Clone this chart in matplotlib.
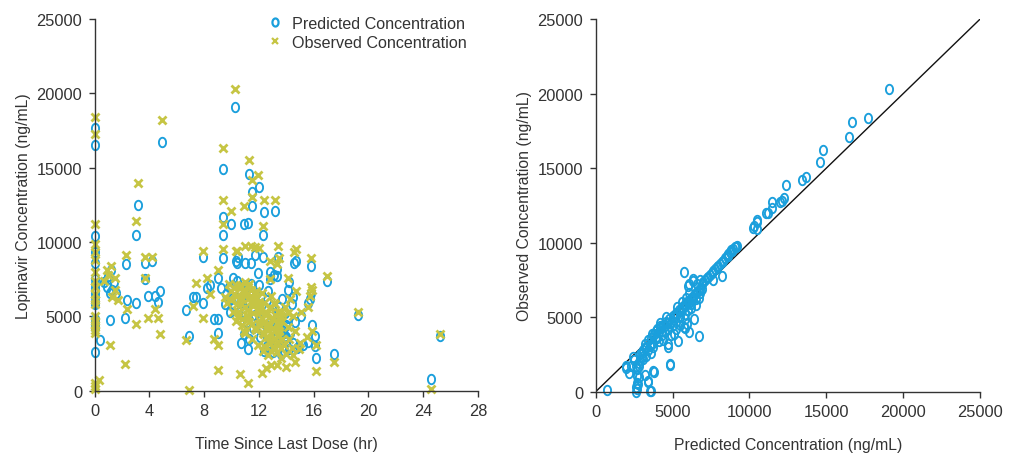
import numpy as np
import matplotlib
matplotlib.use('Agg')
import matplotlib.pyplot as plt
from matplotlib.path import Path

plt.rcParams['font.family'] = ['Liberation Sans', 'DejaVu Sans']

# --- left panel: predicted concentration vs time ---
pred_time = [0]*17 + [
    0.4, 1.1, 0.7, 0.9, 1.0, 1.2, 1.4, 1.3, 1.1, 1.6,
    2.2, 2.3, 2.4, 3.0, 3.2, 3.0, 3.7, 3.7, 3.9, 4.2, 4.4, 4.6, 4.8, 4.9,
    6.7, 6.9, 7.2, 7.4, 7.9, 7.9, 8.2, 8.4, 8.7, 9.0, 9.0, 9.0,
    10.26, 9.35, 11.25, 12.0, 11.5, 11.5, 9.4, 9.96, 10.94, 11.2, 12.35, 13.2, 9.4, 12.3,
    9.4, 10.4, 11.0, 11.4, 13.4, 14.55, 14.7, 12.8, 13.3, 10.3, 11.7, 15.8, 17.0, 14.1,
    15.8, 15.7, 15.6, 15.1, 15.9, 16.1, 15.6, 16.2, 17.5, 16.1, 14.9, 15.2, 14.1, 13.7,
    13.9, 14.0, 13.7, 13.3, 12.8, 13.1, 19.2, 24.6, 25.2,
    9.5, 9.6, 9.8, 10.0, 10.2, 10.4, 10.6, 10.7, 10.9, 11.0, 11.1, 11.2, 11.3, 11.5,
    11.6, 11.8, 12.0, 12.1, 12.2, 12.4, 12.5, 12.6, 12.8, 12.9, 13.0, 13.1, 13.2, 13.4,
    13.5, 13.6, 13.8, 13.9, 14.0, 14.2, 14.3, 14.4, 14.5, 14.6, 14.8, 10.5, 11.9, 12.3,
    10.8, 11.4, 12.7, 14.2, 14.5,
    9.2, 9.9, 10.1, 10.6, 11.0, 11.7, 12.0, 12.6, 13.0, 13.3, 13.6, 14.0, 11.3, 12.2]
pred_conc = [17700, 16500, 10400, 9300, 8600, 7500, 7200, 6900, 6600, 6300, 6000, 5800,
    4800, 4600, 4400, 4200, 2600,
    3400, 4750, 7300, 7000, 7700, 8100, 7300, 6800, 6600, 6600,
    4900, 8500, 6100, 10500, 12500, 5900, 7500, 8600, 6400, 8700, 6400, 6000, 6700, 16700,
    5400, 3700, 6300, 6300, 5900, 9000, 6900, 7100, 4800, 4800, 3900, 7600,
    19100, 14900, 14600, 13700, 13400, 12400, 11700, 11200, 11200, 11300, 12000, 12100, 10500, 10500,
    8900, 8600, 8600, 8600, 9000, 8600, 8700, 8000, 7700, 8700, 9100, 8400, 7400, 6800,
    6600, 6200, 5900, 5000, 4400, 3700, 3300, 2200, 2500, 3000, 3000, 3100, 4900, 4100,
    3700, 3300, 6200, 8200, 7500, 7800, 5100, 800, 3700,
    5800, 6500, 7000, 6200, 5600, 7400, 6800, 3200, 3800, 5200, 4600, 2800, 6000, 5500,
    4200, 6500, 4800, 3600, 5800, 2700, 4400, 6100, 3200, 5300, 2600, 4700, 3500, 2900,
    5600, 3800, 2700, 5200, 4400, 2800, 3900, 5800, 3200, 4600, 2900, 9000, 7900, 9000,
    6100, 7200, 6700, 7300, 6300,
    6900, 5300, 7600, 5900, 6700, 5100, 7100, 3000, 4200, 3300, 2500, 3600, 3500, 4100]

# --- left panel: observed concentration vs time ---
obs_time = [0]*20 + [
    0.3, 1.1, 0.7, 0.9, 1.2, 1.5, 1.3, 1.7, 1.0, 1.5,
    2.2, 2.4, 2.3, 3.0, 3.2, 3.0, 3.7, 3.7, 3.9, 4.2, 4.4, 4.6, 4.8, 4.9,
    6.7, 6.9, 7.2, 7.4, 7.9, 7.9, 8.2, 8.4, 8.7, 9.0, 9.0, 9.0,
    10.26, 9.35, 11.25, 11.9, 11.5, 11.5, 9.4, 9.96, 10.94, 12.35, 13.2, 9.4, 12.3,
    9.4, 10.4, 11.0, 11.4, 13.4, 14.55, 14.7, 12.8, 10.3, 11.7, 12.0, 15.8, 17.0, 14.1,
    15.8, 15.7, 15.6, 15.1, 15.9, 15.5, 16.2, 17.5, 15.0, 14.9, 14.5, 14.6, 14.1, 12.9,
    12.8, 13.3, 13.5, 19.2, 24.6, 25.2, 10.6, 11.2, 12.2, 12.5, 12.9, 14.0, 13.3, 16.2, 15.9,
    9.5, 9.7, 9.8, 10.0, 10.1, 10.2, 10.4, 10.5, 10.6, 10.7, 10.8, 10.9, 11.0, 11.0,
    11.1, 11.2, 11.3, 11.4, 11.5, 11.6, 11.7, 11.8, 11.9, 12.0, 12.1, 12.2, 12.3, 12.4,
    12.5, 12.6, 12.7, 12.8, 12.9, 13.0, 13.0, 13.1, 13.2, 13.3, 13.4, 13.5, 13.6, 13.7,
    13.8, 13.9, 14.0, 14.1, 14.2, 14.3, 14.4, 14.5, 14.6, 14.7, 10.3, 10.9, 11.5, 11.1,
    12.0, 12.4, 13.2, 13.6, 11.8, 12.7,
    # 10-12 h の密集部分
    10.0, 10.2, 10.4, 10.6, 10.8, 11.0, 11.2, 11.4, 11.6, 11.8, 10.3, 10.7, 11.1, 11.5,
    11.9, 10.5, 10.9, 11.3, 11.7, 12.1, 10.8, 11.2, 11.6, 12.0,
    # 12-14 h の密集部分
    12.2, 12.4, 12.6, 12.8, 13.0, 13.2, 13.4, 13.6, 12.3, 12.5, 12.7, 12.9, 13.1, 13.3,
    13.5, 13.7, 12.4, 12.8, 13.2, 13.6, 12.6, 13.0, 13.4, 12.1, 12.9, 13.5]
obs_conc = [18400, 17300, 11200, 9900, 9300, 8800, 8000, 7400, 7000, 6500, 6100, 5800,
    5000, 4700, 4400, 4100, 3900, 500, 300, 100,
    700, 3100, 7400, 8100, 8400, 7600, 6300, 6100, 7800, 6800,
    1800, 5500, 9100, 11400, 14000, 4500, 7600, 9000, 4900, 9000, 5500, 4900, 3800, 18200,
    3400, 80, 5700, 7250, 4900, 9400, 7600, 6500, 3500, 3100, 1400, 8100,
    20300, 16300, 15500, 14500, 14200, 13000, 12800, 12100, 12400, 12800, 12800, 11200, 11100,
    9500, 9400, 9750, 9750, 9750, 9300, 9500, 8700, 9400, 9700, 9600, 8900, 7700, 7600,
    7000, 6400, 5600, 5300, 4000, 3600, 1350, 1900, 3200, 2800, 2400, 1900, 5200, 6400,
    7500, 8500, 8900, 5300, 100, 3800, 1100, 500, 1200, 1500, 1700, 1600, 1700, 3100, 6800,
    6300, 5900, 7200, 6700, 5300, 6900, 6400, 5000, 7100, 5800, 4400, 6600, 3900, 7300,
    5100, 6200, 4600, 6800, 3500, 5700, 4200, 6300, 3100, 5400, 4700, 6600, 2700, 3800,
    5100, 4300, 2400, 5600, 3400, 4900, 2900, 5900, 4100, 2600, 5300, 3700, 2200, 4700,
    3100, 5600, 2500, 4300, 3500, 6200, 2900, 5000, 4000, 6700, 4700, 4000, 4500, 6500,
    6000, 5900, 5800, 5000, 4100, 3600,
    6100, 6500, 5800, 6900, 6200, 5600, 7000, 6400, 5900, 6700, 7100, 6300, 5400, 6100,
    5500, 5300, 6800, 7200, 6500, 5800, 4800, 4900, 5200, 4500,
    4900, 4600, 5200, 4400, 4800, 5100, 4600, 5300, 3900, 3600, 4100, 3800, 3500, 3300,
    4000, 3500, 3000, 3200, 2800, 2900, 4500, 4200, 3700, 5300, 2700, 4300]

# --- right panel: observed vs predicted ---
scatter_pred = [19100, 17700, 16700, 16500, 14800, 14600, 13700, 13400, 12400, 12250,
    12100, 12000, 11500, 11500, 11200, 11100, 10500, 10300, 10250, 10500, 10500,
    9170, 9050, 8950, 8850, 8740, 8630, 8520, 8410, 8300, 8200, 8090, 7980, 7870, 7760,
    7650, 7550, 7440, 7330, 7220, 7110, 7000, 6900, 8200, 7650, 6900, 6800, 9100, 8800, 8600,
    5770, 6300, 6100, 6000, 6300, 6740, 6100, 5810, 5920, 5750, 6400, 6200, 6500, 5370,
    5090, 4730, 4730, 4840, 4180, 3640,
    3790, 3210, 3380, 3600, 2620, 2600, 2700, 2800, 2190, 2000, 2400, 2800, 2700, 710,
    2900, 3100, 3500, 2670, 2770, 2670, 3530, 3420, 3750, 4830, 2000, 2300, 2600, 2800,
    2500, 3000, 3000, 3300, 3600, 3200,
    3200, 3400, 3600, 3800, 3900, 4000, 4100, 4200, 4300, 4400, 4500, 4600, 4700, 4800,
    4900, 5000, 5100, 5200, 5300, 5400, 5500, 5600, 5700, 5800, 5900, 6000, 6100, 6200,
    6300, 6400, 6500, 6600, 6700, 6800, 4500, 4700, 5000, 5200, 5500, 5800, 6000, 6200,
    4300, 4000, 3700, 3900, 4200, 4600, 5300, 5600, 5900, 6100, 6600, 6800, 6300, 6500,
    6700, 5500, 5800, 4900, 5200, 4400, 3600, 3300, 3100, 2900, 3400, 3700, 4100]
scatter_obs = [20300, 18400, 18100, 17100, 16200, 15400, 14400, 14200, 13900, 13000,
    12800, 12700, 12700, 12300, 12000, 12000, 11500, 11100, 11000, 11400, 10900,
    9790, 9680, 9570, 9460, 9350, 9240, 9120, 8950, 8790, 8680, 8560, 8450, 8340, 8230,
    8120, 7980, 7830, 7720, 7610, 7500, 7380, 7250, 7760, 7500, 6900, 6600, 9700, 9500, 9100,
    8000, 7560, 7220, 7100, 6330, 3760, 3980, 4880, 4540, 4320, 4880, 5900, 6200, 3420,
    3870, 3200, 2980, 1810, 4430, 3870,
    1340, 1120, 670, 70, 290, 0, 600, 1000, 1250, 1700, 2300, 1900, 1500, 130,
    2500, 2800, 3100, 1070, 520, 180, 70, 740, 1410, 1860, 1600, 1700, 1750, 1750,
    2100, 2300, 2600, 3000, 3200, 2900,
    3200, 3500, 3600, 3900, 3700, 4200, 4000, 4300, 4100, 4500, 4400, 4700, 4600, 4900,
    4700, 5100, 5000, 5300, 5200, 5500, 5400, 5700, 5600, 5900, 5800, 6100, 6000, 6300,
    6200, 6500, 6600, 6700, 6800, 6900, 4000, 4200, 4500, 4700, 5000, 5200, 5500, 5600,
    3800, 3600, 3300, 4100, 4600, 5000, 5700, 6000, 6300, 6600, 7200, 7500, 7400, 5800,
    6300, 4500, 4300, 3800, 4200, 3500, 2600, 2400, 2200, 2100, 2800, 3000, 3400]

conc_ticks = [0, 5000, 10000, 15000, 20000, 25000]
time_ticks = [0, 4, 8, 12, 16, 20, 24, 28]

blue = '#1a9fdc'
olive = '#c6c544'
dark = '#333333'

# 縦長の楕円マーカー
theta = np.linspace(0, 2 * np.pi, 60)
ellipse = Path(np.column_stack([0.76 * np.cos(theta), np.sin(theta)]))

fig = plt.figure(figsize=(10.1, 4.56), dpi=100)
ax1 = fig.add_axes([0.0936, 0.141, 0.3797, 0.815])
ax2 = fig.add_axes([0.5898, 0.1388, 0.3805, 0.817])

def style_axes(ax):
    for s in ['top', 'right']:
        ax.spines[s].set_visible(False)
    for s in ['left', 'bottom']:
        ax.spines[s].set_color(dark)
        ax.spines[s].set_linewidth(1.0)
    ax.tick_params(direction='out', length=4, width=1, colors=dark,
                   labelsize=11.8, pad=5)

ax1.plot(pred_time, pred_conc, linestyle='none', marker=ellipse, ms=6.8,
         mfc='none', mec=blue, mew=1.35, clip_on=False, label='Predicted Concentration')
ax1.plot(obs_time, obs_conc, linestyle='none', marker='x', ms=5.6,
         mec=olive, mew=2.0, clip_on=False, label='Observed Concentration')
ax1.set_xlim(0, 28)
ax1.set_ylim(0, 25000)
ax1.set_xticks(time_ticks)
ax1.set_yticks(conc_ticks)
ax1.set_xlabel('Time Since Last Dose (hr)', fontsize=11.3, color=dark, labelpad=13)
ax1.set_ylabel('Lopinavir Concentration (ng/mL)', fontsize=11.3, color=dark, labelpad=4)
style_axes(ax1)
leg = ax1.legend(loc='upper left', bbox_to_anchor=(0.43, 1.035), frameon=False,
                 fontsize=11.6, handlelength=0.7, handletextpad=0.75, markerscale=0.85,
                 labelspacing=0.25, borderaxespad=0.2)
for t in leg.get_texts():
    t.set_color(dark)
for h in leg.legend_handles:
    h.set_markeredgewidth(1.6)

ax2.plot([0, 25000], [0, 25000], color='#111111', lw=1.0)
ax2.plot(scatter_pred, scatter_obs, linestyle='none', marker=ellipse, ms=6.8,
         mfc='none', mec=blue, mew=1.35, clip_on=False)
ax2.set_xlim(0, 25000)
ax2.set_ylim(0, 25000)
ax2.set_xticks(conc_ticks)
ax2.set_yticks(conc_ticks)
ax2.set_xlabel('Predicted Concentration (ng/mL)', fontsize=11.3, color=dark, labelpad=13)
ax2.set_ylabel('Observed Concentration (ng/mL)', fontsize=11.3, color=dark, labelpad=4)
style_axes(ax2)

fig.savefig('out.png', dpi=100)
